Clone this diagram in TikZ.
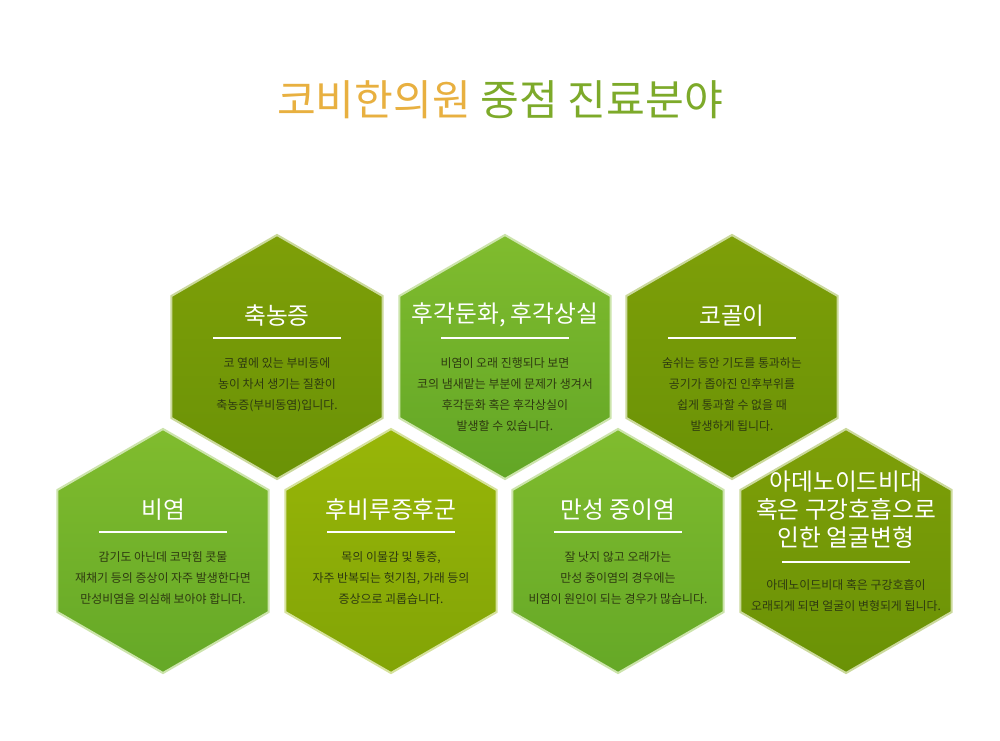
\documentclass[tikz,border=0pt]{standalone}
\usepackage{fontspec}
\setmainfont{Noto Sans CJK KR}
\usetikzlibrary{positioning,calc}
\definecolor{gold}{HTML}{E8B040}
\definecolor{titlegreen}{HTML}{7DAA2A}
\definecolor{olive}{HTML}{7E9F08}
\definecolor{oliveb}{HTML}{6A9206}
\definecolor{leaf}{HTML}{80BC2E}
\definecolor{leafb}{HTML}{62A626}
\definecolor{lime}{HTML}{98B608}
\definecolor{limeb}{HTML}{82A406}
\definecolor{bodytext}{HTML}{2E3A10}
\newcommand\hexcell[3]{% center, top colour, bottom colour
  \shade[top color=#2, bottom color=#3, draw=#2!40!white, line width=1.2pt]
    ($(#1)+(90:122)$) -- ($(#1)+(30:122)$) -- ($(#1)+(-30:122)$) --
    ($(#1)+(-90:122)$) -- ($(#1)+(-150:122)$) -- ($(#1)+(150:122)$) -- cycle;}
\tikzset{
  hexcap/.style={text=white, font=\fontsize{13.5}{16}\selectfont, align=center, anchor=south},
  hexrule/.style={draw=white, line width=0.6pt},
  hexbody/.style={text=bodytext, font=\fontsize{6.8}{12}\selectfont, align=center, anchor=north},
}
\begin{document}
\begin{tikzpicture}[x=0.02cm,y=-0.02cm]
  \useasboundingbox[fill=white] (0,0) rectangle (1000,740);
  % title
  \node[font=\fontsize{24}{28}\selectfont] (title) at (500,100)
    {\textcolor{gold}{코비한의원} \textcolor{titlegreen}{중점 진료분야}};
  % centres
  \coordinate (c1) at (277,357);
  \coordinate (c2) at (505,357);
  \coordinate (c3) at (732,357);
  \coordinate (c4) at (163,551);
  \coordinate (c5) at (391,551);
  \coordinate (c6) at (618,551);
  \coordinate (c7) at (846,551);
  \hexcell{c1}{olive}{oliveb}
  \hexcell{c2}{leaf}{leafb}
  \hexcell{c3}{olive}{oliveb}
  \hexcell{c4}{leaf}{leafb!90!leaf}
  \hexcell{c5}{lime}{limeb}
  \hexcell{c6}{leaf}{leafb!90!leaf}
  \hexcell{c7}{olive}{oliveb}
  % texts
  \foreach \c/\t/\b in {
      c1/축농증/{코 옆에 있는 부비동에\\농이 차서 생기는 질환이\\축농증(부비동염)입니다.},
      c2/{후각둔화, 후각상실}/{비염이 오래 진행되다 보면\\코의 냄새맡는 부분에 문제가 생겨서\\후각둔화 혹은 후각상실이\\발생할 수 있습니다.},
      c3/코골이/{숨쉬는 동안 기도를 통과하는\\공기가 좁아진 인후부위를\\쉽게 통과할 수 없을 때\\발생하게 됩니다.},
      c4/비염/{감기도 아닌데 코막힘 콧물\\재채기 등의 증상이 자주 발생한다면\\만성비염을 의심해 보아야 합니다.},
      c5/후비루증후군/{목의 이물감 및 통증,\\자주 반복되는 헛기침, 가래 등의\\증상으로 괴롭습니다.},
      c6/만성 중이염/{잘 낫지 않고 오래가는\\만성 중이염의 경우에는\\비염이 원인이 되는 경우가 많습니다.}} {
    \node[hexcap] (\c-cap) at ($(\c)+(0,-24)$) {\t};
    \draw[hexrule] ($(\c)+(-64,-19)$) -- ($(\c)+(64,-19)$);
    \node[hexbody] (\c-body) at ($(\c)+(0,-6)$) {\b};
  }
  \node[hexcap] (c7-cap) at ($(c7)+(0,4)$) {아데노이드비대\\혹은 구강호흡으로\\인한 얼굴변형};
  \draw[hexrule] ($(c7)+(-64,11)$) -- ($(c7)+(64,11)$);
  \node[hexbody] (c7-body) at ($(c7)+(0,22)$) {아데노이드비대 혹은 구강호흡이\\오래되게 되면 얼굴이 변형되게 됩니다.};
\end{tikzpicture}
\end{document}
